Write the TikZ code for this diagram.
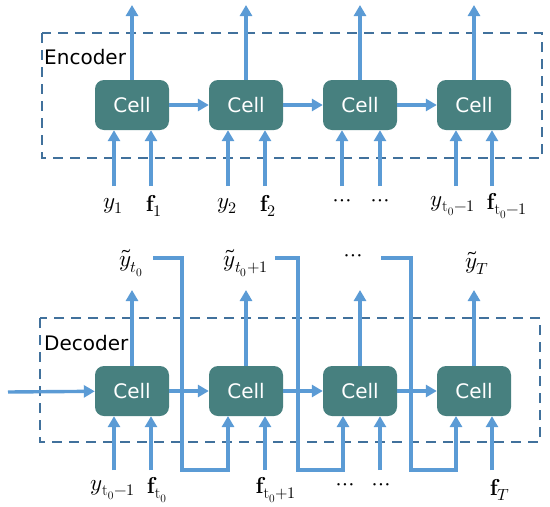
\documentclass[tikz,border=0pt]{standalone}
\usepackage{fontspec}
\usepackage{unicode-math}
\setmathfont{Latin Modern Math}
\newfontfamily\cellfont{DejaVu Sans}
\usetikzlibrary{arrows.meta}
\definecolor{cellteal}{HTML}{47807F}
\definecolor{arrowblue}{HTML}{5B9BD5}
\definecolor{boxblue}{HTML}{41719C}
\tikzset{
  cellbox/.style={draw=none, fill=cellteal, rounded corners=9pt, minimum width=74pt, minimum height=50pt, inner sep=0pt, font=\cellfont\fontsize{20}{22}\selectfont, text=white},
  flow/.style={draw=arrowblue, line width=3.4pt, -{Triangle[length=11pt,width=12pt]}},
  frame/.style={draw=boxblue, line width=2.8pt, dash pattern=on 10pt off 7pt},
  lab/.style={inner sep=0pt, font=\fontsize{23}{26}\selectfont},
  title/.style={inner sep=0pt, anchor=west, font=\cellfont\fontsize{20}{22}\selectfont}
}
\begin{document}
\begin{tikzpicture}[x=1pt,y=-1pt]
\useasboundingbox (0,0) rectangle (550,507);
% frames
\draw[frame] (42,33) rectangle (542,158);
\draw[frame] (40,318) rectangle (540,442);
\node[title] (enc) at (44,57) {Encoder};
\node[title] (dec) at (44,343) {Decoder};
% cells
\foreach \i/\x in {1/132,2/246,3/360,4/474}{
  \node[cellbox] (e\i) at (\x,105) {Cell};
  \node[cellbox] (d\i) at (\x,391) {Cell};
}
% encoder horizontal
\draw[flow] (e1) -- (e2);
\draw[flow] (e2) -- (e3);
\draw[flow] (e3) -- (e4);
% encoder outputs
\foreach \i in {1,2,3,4}{
  \coordinate (eo\i) at (e\i.north |- 0,5);
  \draw[flow] (e\i.north) -- (eo\i);
}
% encoder input arrow bases
\foreach \i/\a/\b in {1/114/151,2/228/265,3/342/380,4/456/492}{
  \coordinate (ea\i) at (\a,186);
  \coordinate (eb\i) at (\b,186);
  \draw[flow] (ea\i) -- (ea\i |- e\i.south);
  \draw[flow] (eb\i) -- (eb\i |- e\i.south);
}
% encoder labels
\node[lab] (ey1) at (113,206) {$y_1$};
\node[lab] (ef1) at (154,206) {$\mathbf{f}_1$};
\node[lab] (ey2) at (227,206) {$y_2$};
\node[lab] (ef2) at (268,206) {$\mathbf{f}_2$};
\node[lab] (ey3) at (342,203) {$\cdots$};
\node[lab] (ef3) at (380,203) {$\cdots$};
\node[lab] (ey4) at (453,206) {$y_{\mathrm{t_0}-1}$};
\node[lab] (ef4) at (507,206) {$\mathbf{f}_{\mathrm{t_0}-1}$};
% decoder horizontal
\coordinate (din) at (8,392);
\draw[flow] (din) -- (d1);
\draw[flow] (d1) -- (d2);
\draw[flow] (d2) -- (d3);
\draw[flow] (d3) -- (d4);
% decoder outputs and labels
\node[lab] (o1) at (131,263) {$\tilde{y}_{t_0}$};
\node[lab] (o2) at (246,263) {$\tilde{y}_{t_0+1}$};
\node[lab] (o3) at (353,258) {$\cdots$};
\node[lab] (o4) at (477,263) {$\tilde{y}_{T}$};
\foreach \i in {1,2,3,4}{
  \draw[flow] (d\i.north) -- (d\i.north |- 0,290);
}
% decoder bottom labels
\node[lab] (dy1) at (113,490) {$y_{\mathrm{t_0}-1}$};
\node[lab] (df1) at (157,490) {$\mathbf{f}_{\mathrm{t_0}}$};
\node[lab] (df2) at (276,490) {$\mathbf{f}_{\mathrm{t_0}+1}$};
\node[lab] (dy3) at (345,487) {$\cdots$};
\node[lab] (df3) at (381,487) {$\cdots$};
\node[lab] (df4) at (500,490) {$\mathbf{f}_{T}$};
% decoder input arrows
\foreach \i/\b in {1/151,2/265,3/380,4/492}{
  \coordinate (db\i) at (\b,470);
  \draw[flow] (db\i) -- (db\i |- d\i.south);
}
\coordinate (da1) at (114,470);
\draw[flow] (da1) -- (da1 |- d1.south);
% feedback lines
\coordinate (fa) at (153,258);
\coordinate (fb) at (275,258);
\coordinate (fc) at (381,258);
\draw[flow] (fa) -- (182,258) -- (182,470) -- (228,470) -- (228,416);
\draw[flow] (fb) -- (298,258) -- (298,470) -- (343,470) -- (343,416);
\draw[flow] (fc) -- (411,258) -- (411,470) -- (456,470) -- (456,416);
\end{tikzpicture}
\end{document}
